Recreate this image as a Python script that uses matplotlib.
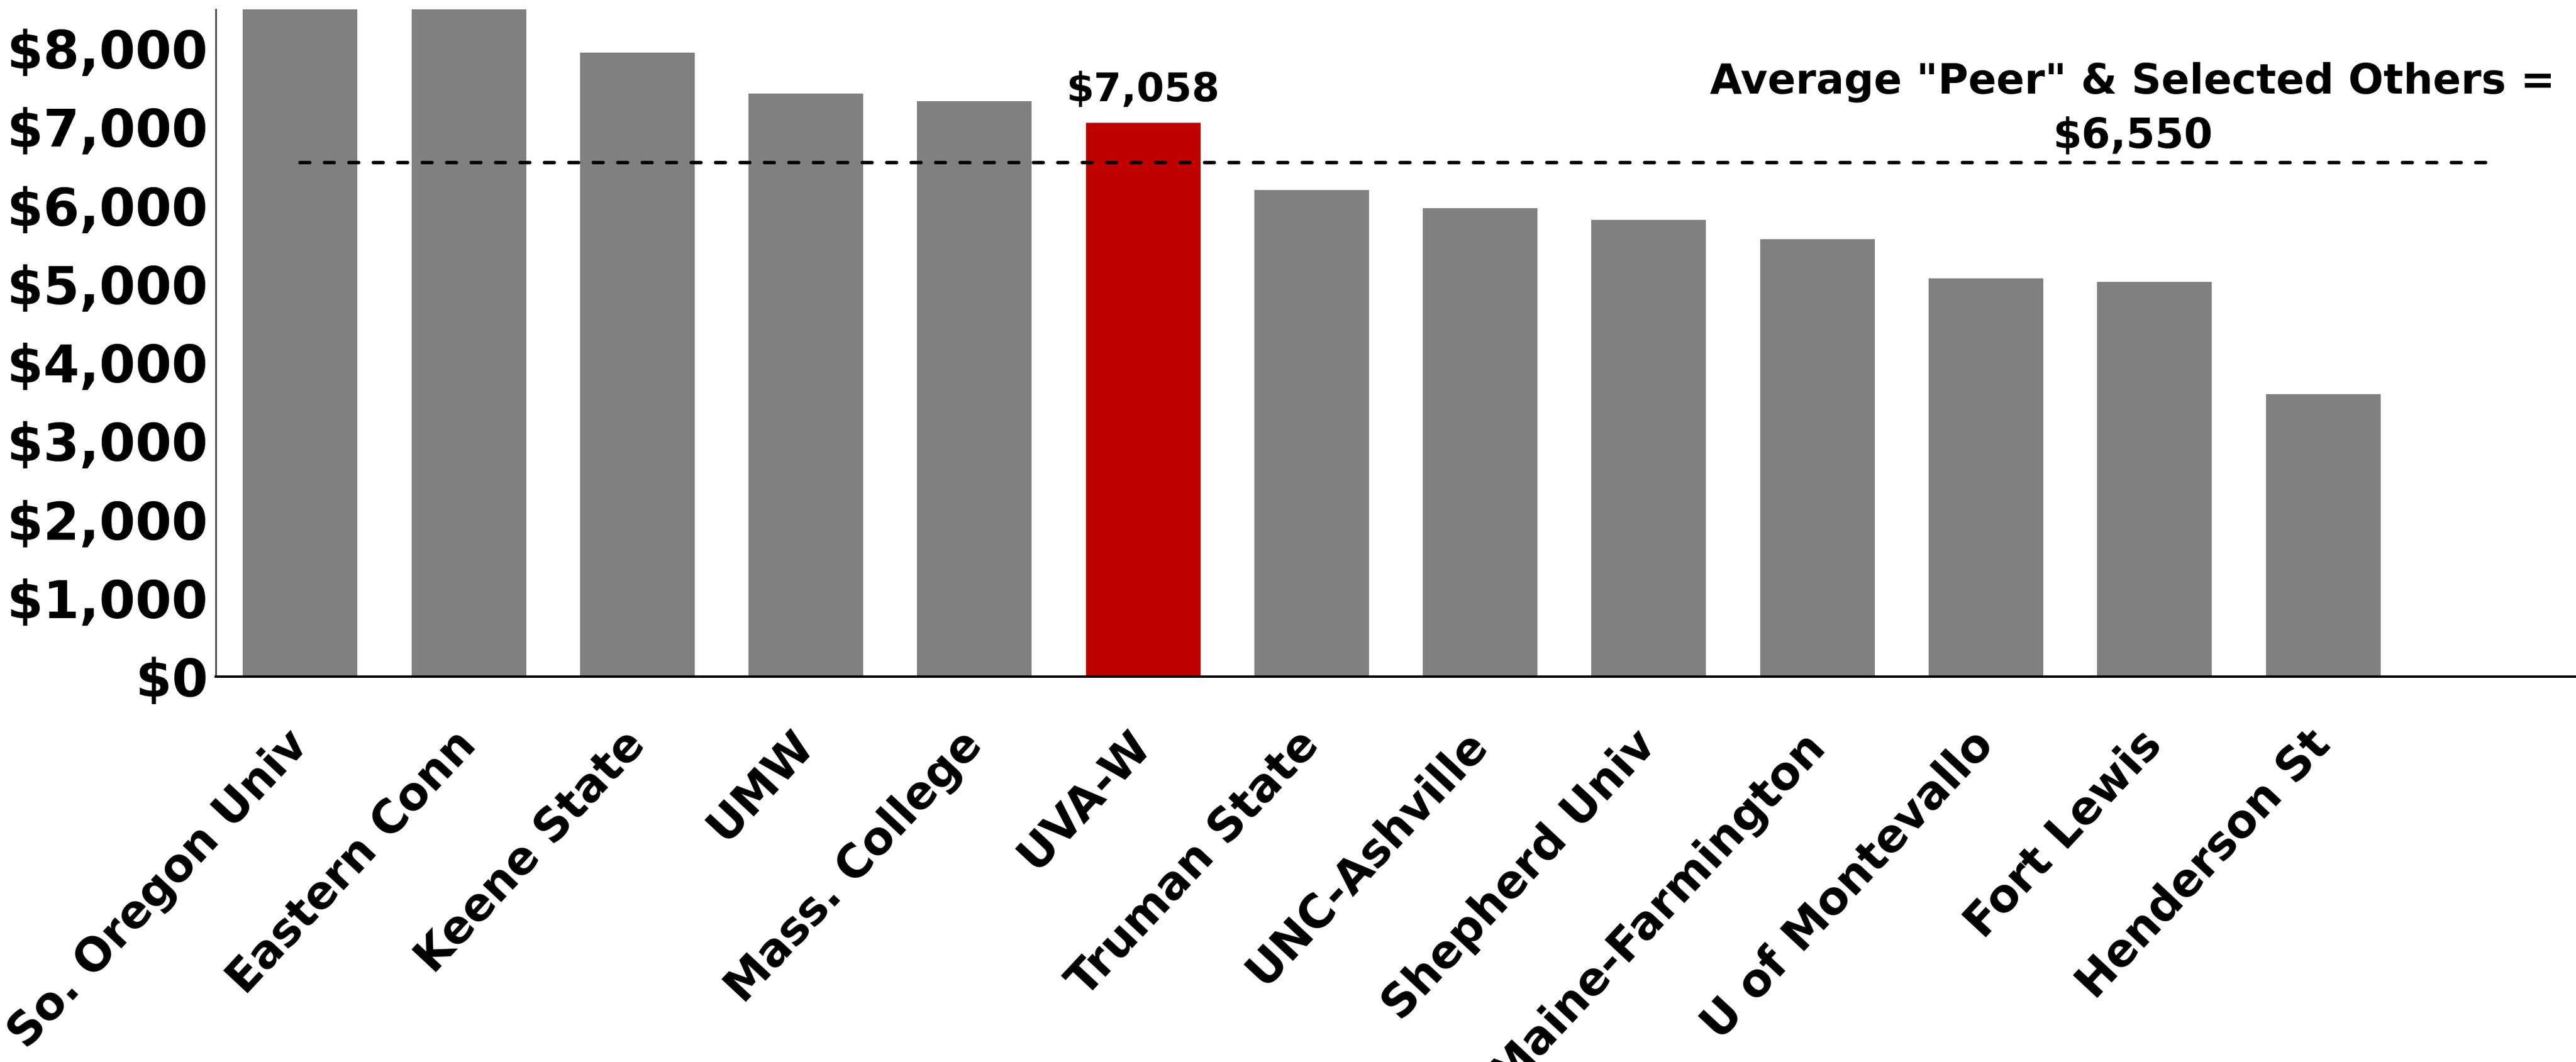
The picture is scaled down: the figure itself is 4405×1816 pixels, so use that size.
import numpy as np
import matplotlib
matplotlib.use("Agg")
import matplotlib.pyplot as plt
from matplotlib.ticker import FuncFormatter

# schools, sorted by value (last slot is an empty category)
schools = ["So. Oregon Univ", "Eastern Conn", "Keene State", "UMW", "Mass. College",
           "UVA-W", "Truman State", "UNC-Ashville", "Shepherd Univ", "Maine-Farmington",
           "U of Montevallo", "Fort Lewis", "Henderson St"]
values = [9400, 9000, 7950, 7430, 7330, 7058, 6200, 5970, 5820, 5570, 5070, 5030, 3600]
highlight = "UVA-W"
peer_avg = 6550
yticks = [0, 1000, 2000, 3000, 4000, 5000, 6000, 7000, 8000]

plt.rcParams['font.family'] = ['DejaVu Sans']
plt.rcParams['font.weight'] = 'bold'

fig = plt.figure(figsize=(44.05, 18.16), dpi=100)
ax = fig.add_axes([0.0838, 0.3629, 0.9162, 0.6283])

x = np.arange(len(schools))
colors = ['#C00000' if s == highlight else '#808080' for s in schools]
bars = ax.bar(x, values, width=0.68, color=colors, zorder=2)

# only the highlighted bar gets a value label
labels = ['${:,}'.format(v) if s == highlight else '' for s, v in zip(schools, values)]
ax.bar_label(bars, labels=labels, padding=16, fontsize=49, fontweight='bold')

# peer average line, runs through the empty last category
ax.plot([0, len(schools)], [peer_avg, peer_avg], color='black', linestyle=(0, (2.8, 4.2)),
        linewidth=4.3, dash_capstyle='round', zorder=3)
ax.text(10.87, 7230, 'Average "Peer" & Selected Others =\n${:,}'.format(peer_avg),
        ha='center', va='center', fontsize=51, fontweight='bold', linespacing=1.45, zorder=4)

ax.set_xlim(-0.5, len(schools) + 0.5)
ax.set_ylim(0, 8500)
ax.set_yticks(yticks)
ax.yaxis.set_major_formatter(FuncFormatter(lambda v, p: '${:,.0f}'.format(v)))
ax.tick_params(axis='y', length=0, pad=10, labelsize=64)

ax.set_xticks(list(x) + [len(schools)])
ax.set_xticklabels(schools + [''], rotation=47, ha='right', va='center',
                   rotation_mode='anchor', fontsize=56, fontweight='bold')
ax.tick_params(axis='x', length=0, pad=75)

ax.spines['top'].set_visible(False)
ax.spines['right'].set_visible(False)
ax.spines['left'].set_color('#404040')
ax.spines['left'].set_linewidth(2)
ax.spines['bottom'].set_linewidth(3)

plt.savefig('out.png', dpi=100)
